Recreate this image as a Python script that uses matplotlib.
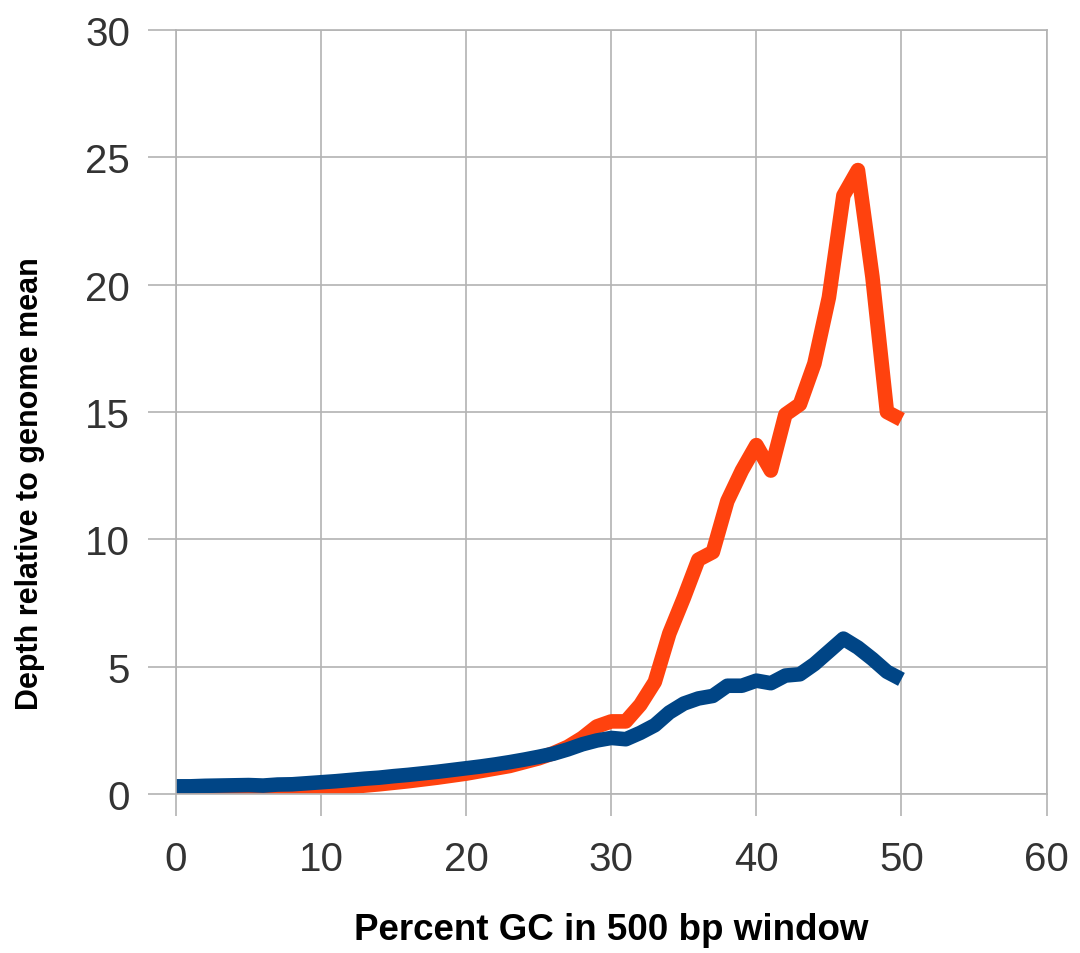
import matplotlib
matplotlib.use("Agg")
import matplotlib.pyplot as plt
import numpy as np

plt.rcParams["font.family"] = ["Liberation Sans", "DejaVu Sans"]

# percent GC in window (0..50) and depth relative to genome mean
gc = np.arange(0, 51)
depth_red = [0.25, 0.22, 0.20, 0.18, 0.17, 0.16, 0.15, 0.15, 0.16, 0.18,
             0.20, 0.24, 0.28, 0.33, 0.38, 0.44, 0.50, 0.57, 0.64, 0.72,
             0.80, 0.90, 1.00, 1.10, 1.25, 1.40, 1.60, 1.85, 2.20, 2.65,
             2.85, 2.85, 3.50, 4.40, 6.30, 7.70, 9.20, 9.50, 11.5, 12.7,
             13.7, 12.7, 14.9, 15.3, 16.9, 19.5, 23.5, 24.5, 20.3, 15.0,
             14.7]
depth_blue = [0.30, 0.30, 0.32, 0.33, 0.34, 0.35, 0.33, 0.37, 0.38, 0.42,
              0.46, 0.50, 0.55, 0.60, 0.64, 0.70, 0.75, 0.81, 0.87, 0.94,
              1.01, 1.08, 1.16, 1.25, 1.35, 1.46, 1.58, 1.75, 1.95, 2.10,
              2.20, 2.15, 2.40, 2.70, 3.20, 3.55, 3.75, 3.85, 4.25, 4.25,
              4.45, 4.35, 4.65, 4.70, 5.10, 5.60, 6.10, 5.75, 5.30, 4.80,
              4.50]
x_ticks = [0, 10, 20, 30, 40, 50, 60]
y_ticks = [0, 5, 10, 15, 20, 25, 30]

fig = plt.figure(figsize=(10.8, 9.54), dpi=100)
ax = fig.add_axes([0.163, 0.1667, 0.806, 0.8008])

ax.plot(gc, depth_red, color="#ff420e", lw=10.5, solid_joinstyle="round", solid_capstyle="butt")
ax.plot(gc, depth_blue, color="#004586", lw=10.5, solid_joinstyle="round", solid_capstyle="butt")

ax.set_xlim(0, 60); ax.set_ylim(0, 30)
ax.set_xticks(x_ticks); ax.set_yticks(y_ticks)
ax.grid(True, color="#b3b3b3", lw=1.2)
ax.set_axisbelow(True)
for s in ax.spines.values():
    s.set_color("#b3b3b3"); s.set_linewidth(1.2)
ax.tick_params(axis="both", colors="#b3b3b3", width=1.2,
               labelsize=29, labelcolor="#333333")
ax.tick_params(axis="x", length=16, pad=17)
ax.tick_params(axis="y", length=20, pad=13)

ax.set_xlabel("Percent GC in 500 bp window", fontsize=26.5, fontweight="bold",
              color="black")
ax.set_ylabel("Depth relative to genome mean", fontsize=22, fontweight="bold",
              color="black")
ax.xaxis.set_label_coords(0.5, -0.155)
ax.yaxis.set_label_coords(-0.151, 0.408)

fig.savefig("out.png", dpi=100)
